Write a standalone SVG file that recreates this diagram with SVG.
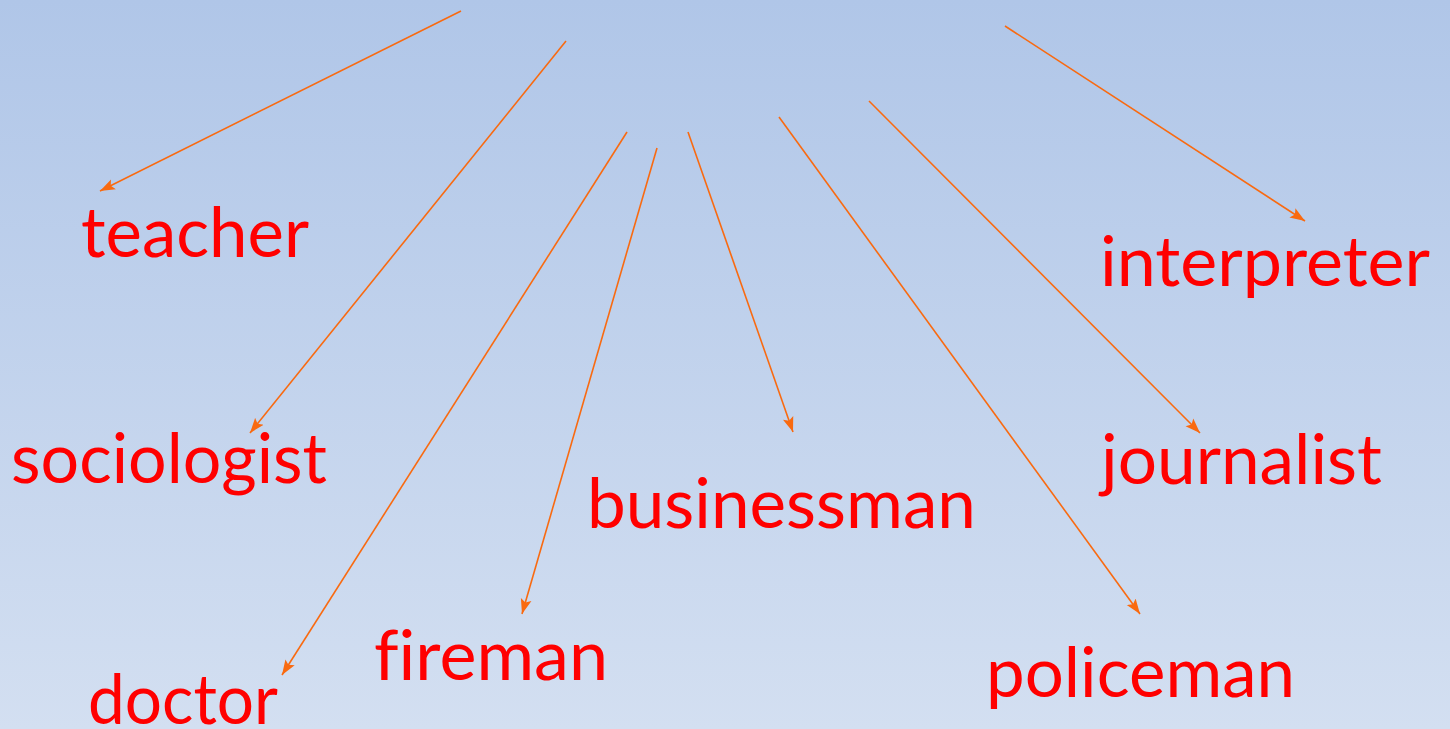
<svg xmlns="http://www.w3.org/2000/svg" width="1450" height="729" viewBox="0 0 1450 729">
<defs>
<linearGradient id="bg" x1="0" y1="0" x2="0" y2="1">
<stop offset="0" stop-color="#B0C6E8"/>
<stop offset="1" stop-color="#D3DFF1"/>
</linearGradient>
<marker id="ah" markerUnits="userSpaceOnUse" markerWidth="16" markerHeight="12" refX="15" refY="6" orient="auto">
<path d="M0,0.5 L15,6 L0,11.5 L3,6 Z" fill="#F96A10"/>
</marker>
<style>
.lbl{font-family:Lato,"Liberation Sans",Arial,sans-serif;font-size:69px;fill:#FF0000;font-variant-ligatures:none;font-feature-settings:"liga" 0;}
.arr{stroke:#F96A10;stroke-width:1.6;fill:none;marker-end:url(#ah);}
</style>
</defs>
<rect width="1450" height="729" fill="url(#bg)"/>
<g id="connectors">
<line class="arr" x1="461" y1="11" x2="100" y2="191"/>
<line class="arr" x1="566" y1="41" x2="250" y2="433"/>
<line class="arr" x1="627" y1="132" x2="282" y2="675"/>
<line class="arr" x1="657" y1="148" x2="522" y2="614"/>
<line class="arr" x1="688" y1="132" x2="793" y2="432"/>
<line class="arr" x1="779" y1="117" x2="1140" y2="614"/>
<line class="arr" x1="869" y1="101" x2="1200" y2="433"/>
<line class="arr" x1="1005" y1="26" x2="1305" y2="221"/>
</g>
<g id="teacher"><text class="lbl" x="81" y="257" textLength="228" lengthAdjust="spacingAndGlyphs">teacher</text></g>
<g id="sociologist"><text class="lbl" x="11" y="483" textLength="316" lengthAdjust="spacingAndGlyphs">sociologist</text></g>
<g id="doctor"><text class="lbl" x="88" y="724" textLength="190" lengthAdjust="spacingAndGlyphs">doctor</text></g>
<g id="fireman"><text class="lbl" x="374" y="680" textLength="234" lengthAdjust="spacingAndGlyphs">fireman</text></g>
<g id="businessman"><text class="lbl" x="587" y="528" textLength="389" lengthAdjust="spacingAndGlyphs">businessman</text></g>
<g id="policeman"><text class="lbl" x="986" y="697" textLength="309" lengthAdjust="spacingAndGlyphs">policeman</text></g>
<g id="journalist"><text class="lbl" x="1101" y="484" textLength="281" lengthAdjust="spacingAndGlyphs">journalist</text></g>
<g id="interpreter"><text class="lbl" x="1100" y="286" textLength="330" lengthAdjust="spacingAndGlyphs">interpreter</text></g>
</svg>
